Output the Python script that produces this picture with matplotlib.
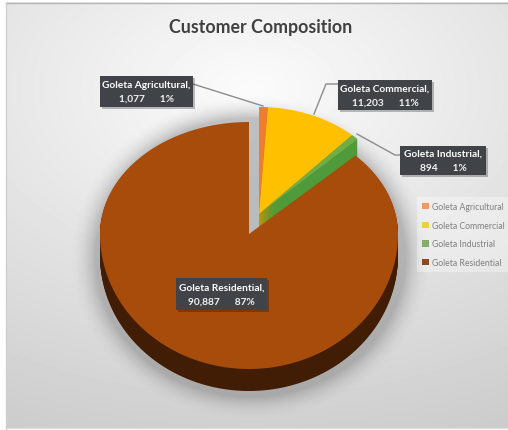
import numpy as np
import matplotlib
matplotlib.use('Agg')
import matplotlib.pyplot as plt
from matplotlib.patches import Patch, Rectangle

plt.rcParams['font.family'] = ['Lato', 'DejaVu Sans']

# ============================== DATA ==============================

categories = ['Goleta Agricultural', 'Goleta Commercial', 'Goleta Industrial', 'Goleta Residential']
customers = [1077, 11203, 894, 90887]

top_colors = ['#ed7d31', '#ffc000', '#70ad47', '#a84c0c']
side_colors = ['#b85c1f', '#c79500', '#4f9a3a', '#421d05']
legend_colors = ['#ee9a63', '#ecd13c', '#83ad6a', '#8a4a1e']

# label box [left, top, right, bottom] in pixels
boxes = [[100, 77, 193, 108], [338, 81, 432, 111], [400, 147, 486, 176], [176, 279, 267, 311]]

W, H = 508, 431

# ============================== HELPERS ==============================

def slice_xy(a0, a1, cx, cy, rx, ry_up, ry_down):
    # Wedge outline, angles in degrees; the front half is stretched for the tilt
    th = np.radians(np.linspace(a0, a1, 300))
    s = np.sin(th)
    x = cx + rx*np.cos(th)
    y = cy - np.where(s > 0, ry_up, ry_down)*s
    return np.r_[cx, x, cx], np.r_[cy, y, cy]


# ============================== PLOT STUFF =============================
fig = plt.figure(figsize=(W/100, H/100), dpi=100, facecolor='white')
ax = fig.add_axes([0, 0, 1, 1])
ax.set_xlim(0, W)
ax.set_ylim(H, 0)
ax.axis('off')

# Panel background
yy, xx = np.mgrid[3:430, 6:508]
dist = np.sqrt(((xx-250)/520.0)**2 + ((yy-90)/340.0)**2)
ax.imshow(np.clip(0.985 - 0.17*dist, 0, 1), cmap='gray', vmin=0, vmax=1,
          extent=(6, 508, 430, 3), aspect='auto', zorder=0)
ax.plot([6, 508], [3.5, 3.5], color='#b5b5b5', lw=1, zorder=1)
ax.plot([6, 508], [429.5, 429.5], color='#dedede', lw=1, zorder=1)
ax.plot([6, 6], [3, 430], color='#d0d0d0', lw=1, zorder=1)

# Soft shadow around the pie
r = np.sqrt(((xx-250)/158.0)**2 + ((yy-258)/142.0)**2)
shadow = np.zeros(r.shape + (4,))
shadow[..., :3] = 0.3
shadow[..., 3] = 0.32*np.clip((1.15 - r)/0.17, 0, 1)**2
ax.imshow(shadow, extent=(6, 508, 430, 3), aspect='auto', zorder=2)

# Gap left by the pulled-out slices
gap = np.zeros((120, 1, 4))
gap[..., :3] = 0.74
gap[:, 0, 3] = np.linspace(0.1, 0.9, 120)
ax.imshow(gap, extent=(250, 259.5, 235, 118), aspect='auto', zorder=3)

total = float(sum(customers))
sweep = [360.0*v/total for v in customers]

# Small slices run clockwise from twelve o'clock
start = 90.0
spans = []
for s in sweep:
    spans.append((start - s, start))
    start -= s

depth = 22
for i in [0, 1, 2]:
    a0, a1 = spans[i]
    for d in range(depth, 0, -1):
        x, y = slice_xy(a0, a1, 259, 215 + d, 138, 107, 107)
        ax.fill(x, y, color=side_colors[i], lw=0, zorder=4)
for i in [0, 1, 2]:
    a0, a1 = spans[i]
    x, y = slice_xy(a0, a1, 259, 215, 138, 107, 107)
    ax.fill(x, y, color=top_colors[i], lw=0, zorder=5)

# Residential slice with its rim
a0, a1 = spans[3]
for d in range(depth, 0, -1):
    x, y = slice_xy(a0, a1, 249, 235 + d, 149, 112, 135)
    ax.fill(x, y, color=side_colors[3], lw=0, zorder=6)
x, y = slice_xy(a0, a1, 249, 235, 149, 112, 135)
ax.fill(x, y, color=top_colors[3], lw=0, zorder=7)

# Leader lines
leader_c = '#8c8c8c'
ax.plot([193, 263], [85, 107], color=leader_c, lw=1, zorder=8)
ax.plot([338, 326, 314], [85, 85, 115], color=leader_c, lw=1, zorder=8)
ax.plot([357, 395, 400], [135, 156, 156], color=leader_c, lw=1, zorder=8)

# Data labels
for name, v, b in zip(categories, customers, boxes):
    ax.add_patch(Rectangle((b[0]+1.5, b[1]+1.5), b[2]-b[0], b[3]-b[1], fc='#000000', alpha=0.25, lw=0, zorder=9))
    ax.add_patch(Rectangle((b[0], b[1]), b[2]-b[0], b[3]-b[1], fc='#404347', lw=0, zorder=10))
    xc = (b[0]+b[2])/2.0
    yc = (b[1]+b[3])/2.0
    ax.text(xc, yc-7, name+',', color='white', fontsize=7.3, fontweight='bold',
            ha='center', va='center', zorder=11)
    ax.text(xc, yc+7, '{:,}      {:.0f}%'.format(v, 100*v/total), color='#f2f2f2', fontsize=7.3,
            fontweight='bold', ha='center', va='center', zorder=11)

ax.text(261, 27, 'Customer Composition', color='#404040', fontsize=12.8, fontweight='bold',
        ha='center', va='center', zorder=11)

# Legend
handles = [Patch(facecolor=c, edgecolor='none', label=n) for c, n in zip(legend_colors, categories)]
leg = ax.legend(handles=handles, loc='upper left', bbox_to_anchor=(417/W, 1-198/H),
                bbox_transform=fig.transFigure, frameon=True, framealpha=0.35, facecolor='white',
                edgecolor='none', fancybox=False, fontsize=6.2, labelcolor='#7f7f7f',
                handlelength=0.8, handleheight=0.8, handletextpad=0.35, labelspacing=1.12,
                borderpad=0.6, borderaxespad=0)
leg.set_zorder(11)

plt.savefig('out.png', dpi=100)
